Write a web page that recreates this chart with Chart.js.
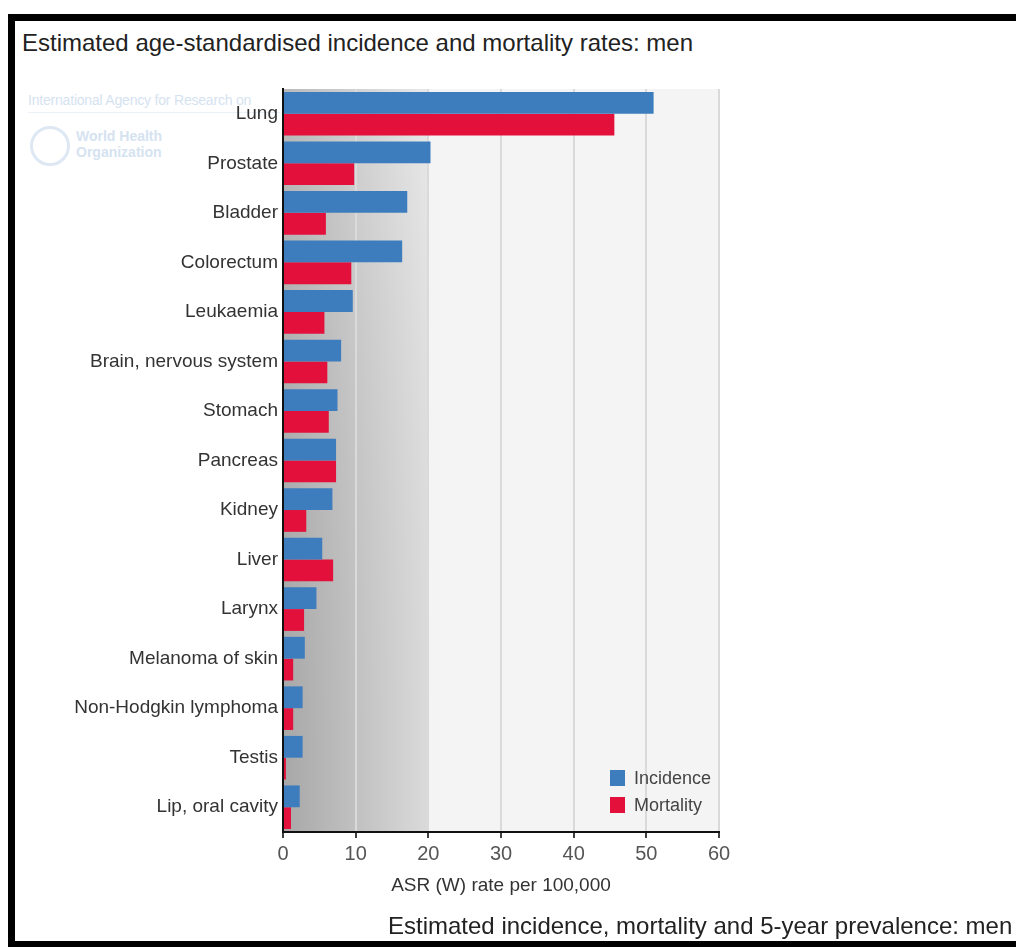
<!DOCTYPE html>
<html>
<head>
<meta charset="utf-8">
<script src="https://cdn.jsdelivr.net/npm/chart.js@4.4.1/dist/chart.umd.min.js"></script>
<style>
	html, body { margin: 0; padding: 0; background: #fff; overflow: hidden; }
	body { width: 1016px; height: 947px; position: relative; font-family: "Liberation Sans", Arial, sans-serif; }
	#frame { position: absolute; left: 8px; top: 14px; width: 1100px; height: 920px;
		border-left: 7px solid #000; border-top: 7px solid #000; border-bottom: 6px solid #000; }
	#title { position: absolute; left: 22px; top: 30px; font-size: 24px; line-height: 26px; color: #222; white-space: nowrap; }
	#caption { position: absolute; left: 388px; top: 913px; font-size: 24px; line-height: 26px; color: #222; white-space: nowrap; }
	#chart { position: absolute; left: 0; top: 0; }
	.wm { position: absolute; color: #d5e3f1; white-space: nowrap; }
	#wm1 { left: 28px; top: 92px; font-size: 14px; letter-spacing: -0.2px; border-bottom: 1px solid #eaf1f8; padding-bottom: 4px; width: 252px; }
	#wm2 { left: 76px; top: 128px; font-size: 14px; line-height: 16px; font-weight: bold; }
	#wmlogo { position: absolute; left: 30px; top: 126px; width: 40px; height: 40px; border-radius: 50%; border: 3px solid #dde8f4; box-sizing: border-box; }
	#legend { position: absolute; left: 610px; top: 767px; font-size: 18px; color: #444; }
	#legend div { height: 27px; line-height: 22px; white-space: nowrap; }
	#legend span { display: inline-block; width: 15px; height: 16px; vertical-align: -2px; margin-right: 9px; }
</style>
</head>
<body>
<div id="frame"></div>
<div id="title">Estimated age-standardised incidence and mortality rates: men</div>
<div class="wm" id="wm1">International Agency for Research on</div>
<div id="wmlogo"></div>
<div class="wm" id="wm2">World Health<br>Organization</div>
<canvas id="chart" width="1016" height="947"></canvas>
<div id="legend"></div>
<div id="caption">Estimated incidence, mortality and 5-year prevalence: men</div>
<script>
// cancer sites, men
var sites = ["Lung", "Prostate", "Bladder", "Colorectum", "Leukaemia", "Brain, nervous system", "Stomach",
	"Pancreas", "Kidney", "Liver", "Larynx", "Melanoma of skin", "Non-Hodgkin lymphoma", "Testis", "Lip, oral cavity"];
var incidence = [51.0, 20.3, 17.1, 16.4, 9.6, 8.0, 7.5, 7.3, 6.8, 5.4, 4.6, 3.0, 2.7, 2.7, 2.3];
var mortality = [45.6, 9.8, 5.9, 9.4, 5.7, 6.1, 6.3, 7.3, 3.2, 6.9, 2.9, 1.4, 1.4, 0.4, 1.1];
var xTicks = [0, 10, 20, 30, 40, 50, 60];

var axisFont = "'Liberation Sans', Arial, sans-serif";

// grey shaded plot background
var plotBackground = {
	id : "plotBackground",
	beforeDraw : function(chart) {
		var a = chart.chartArea, ctx = chart.ctx, x = chart.scales.x;
		var x20 = x.getPixelForValue(20);
		ctx.save();
		ctx.fillStyle = "#f4f4f4";
		ctx.fillRect(a.left, a.top, a.right - a.left, a.bottom - a.top);
		var g = ctx.createLinearGradient(a.left, 0, x20, 0);
		g.addColorStop(0, "#b0b0b0");
		g.addColorStop(1, "#e6e6e6");
		ctx.fillStyle = g;
		ctx.fillRect(a.left, a.top, x20 - a.left, a.bottom - a.top);
		var v = ctx.createLinearGradient(0, a.top, 0, a.bottom);
		v.addColorStop(0, "rgba(255,255,255,0.12)");
		v.addColorStop(1, "rgba(0,0,0,0.05)");
		ctx.fillStyle = v;
		ctx.fillRect(a.left, a.top, x20 - a.left, a.bottom - a.top);
		ctx.restore();
	}
};

var ctx = document.getElementById("chart");

var data = {
	labels : sites,
	datasets : [
		{
			label : "Incidence",
			data : incidence,
			backgroundColor : "#3d7dbd",
			categoryPercentage : 0.88,
			barPercentage : 1.0
		},
		{
			label : "Mortality",
			data : mortality,
			backgroundColor : "#e2103b",
			categoryPercentage : 0.88,
			barPercentage : 1.0
		}
	]
};

var options = {
	responsive : false,
	animation : false,
	indexAxis : "y",
	layout : {
		padding : { left : 0, right : 297, top : 89, bottom : 45 }
	},
	plugins : {
		legend : { display : false },
		tooltip : { enabled : false }
	},
	scales : {
		x : {
			min : 0,
			max : 60,
			afterFit : function(s) { s.height = 70; },
			afterBuildTicks : function(s) { s.ticks = xTicks.map(function(v) { return { value : v }; }); },
			grid : { color : "#dadada", lineWidth : 2, tickColor : "#000", tickLength : 6, tickWidth : 1.5 },
			border : { display : true, color : "#111", width : 2 },
			ticks : { color : "#555", padding : 4, font : { family : axisFont, size : 20 } },
			title : {
				display : true,
				text : "ASR (W) rate per 100,000",
				color : "#333",
				padding : { top : 0, bottom : 5 },
				font : { family : axisFont, size : 19 }
			}
		},
		y : {
			afterFit : function(s) { s.width = 283; },
			grid : { display : false, drawTicks : false },
			border : { display : true, color : "#111", width : 2 },
			ticks : { color : "#333", padding : 5, autoSkip : false, font : { family : axisFont, size : 19 } }
		}
	}
};

var chart = new Chart(ctx, {
	type : "bar",
	data : data,
	options : options,
	plugins : [plotBackground]
});

// legend inside the plot, from the datasets
var legend = document.getElementById("legend");
chart.data.datasets.forEach(function(ds) {
	var row = document.createElement("div");
	var sw = document.createElement("span");
	sw.style.background = ds.backgroundColor;
	row.appendChild(sw);
	row.appendChild(document.createTextNode(ds.label));
	legend.appendChild(row);
});
</script>
</body>
</html>
